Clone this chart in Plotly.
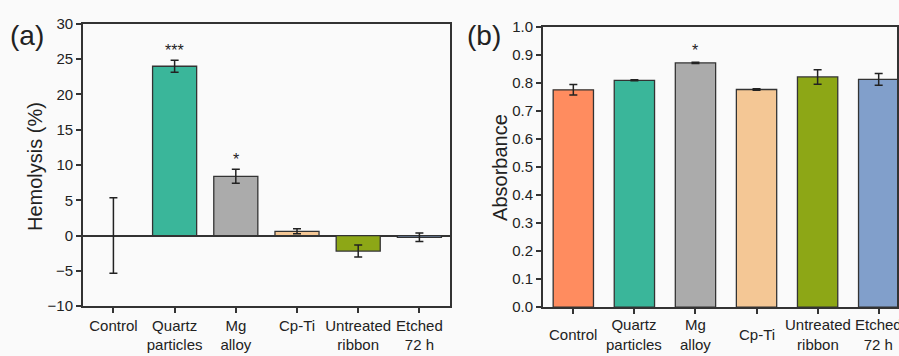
import plotly.graph_objects as go

categories = ["Control", "Quartz<br>particles", "Mg<br>alloy", "Cp-Ti", "Untreated<br>ribbon", "Etched<br>72 h"]
hemolysis = [0.0, 24.0, 8.4, 0.6, -2.2, -0.25]
hemolysis_err = [5.35, 0.85, 1.0, 0.35, 0.85, 0.6]
absorbance = [0.776, 0.810, 0.872, 0.777, 0.822, 0.813]
absorbance_err = [0.019, 0.002, 0.002, 0.003, 0.026, 0.021]
sig_a = ["", "***", "*", "", "", ""]
sig_b = ["", "", "*", "", "", ""]
colors = ["#FF8C5F", "#3AB69A", "#ABABAB", "#F4C795", "#8DA716", "#819FCB"]

FONT = "Arial, Liberation Sans, sans-serif"
TXT = "#222222"
LINE = "#333333"
BG = "#fafafa"

fig = go.Figure()

fig.add_trace(go.Bar(
    x=categories, y=hemolysis, width=0.72,
    marker=dict(color=colors, line=dict(color=LINE, width=1.3)),
    error_y=dict(type="data", array=hemolysis_err, color=TXT, thickness=1.5, width=4),
    xaxis="x", yaxis="y", showlegend=False,
))
fig.add_trace(go.Bar(
    x=categories, y=absorbance, width=0.66,
    marker=dict(color=colors, line=dict(color=LINE, width=1.3)),
    error_y=dict(type="data", array=absorbance_err, color=TXT, thickness=1.5, width=4),
    xaxis="x2", yaxis="y2", showlegend=False,
))

annotations = []
for c, v, e, s in zip(categories, hemolysis, hemolysis_err, sig_a):
    if s:
        annotations.append(dict(x=c, y=v + e, xref="x", yref="y", text=s, showarrow=False,
                                yanchor="bottom", yshift=-1, font=dict(size=16, color=TXT, family=FONT)))
for c, v, e, s in zip(categories, absorbance, absorbance_err, sig_b):
    if s:
        annotations.append(dict(x=c, y=v + e, xref="x2", yref="y2", text=s, showarrow=False,
                                yanchor="bottom", yshift=1, font=dict(size=16, color=TXT, family=FONT)))
# x tick labels of panel (b), vertically centred
for c in categories:
    annotations.append(dict(x=c, y=1 - 342 / 356, xref="x2", yref="paper", text=c, showarrow=False,
                            yanchor="middle", xanchor="center", align="center",
                            font=dict(size=15, color=TXT, family=FONT)))
# panel letters and y titles
annotations += [
    dict(x=27.5 / 899, y=1 - 28 / 356, xref="paper", yref="paper", text="(a)", showarrow=False,
         xanchor="center", yanchor="middle", font=dict(size=28, color=TXT, family=FONT)),
    dict(x=485 / 899, y=1 - 28 / 356, xref="paper", yref="paper", text="(b)", showarrow=False,
         xanchor="center", yanchor="middle", font=dict(size=28, color=TXT, family=FONT)),
    dict(x=35 / 899, y=1 - 165 / 356, xref="paper", yref="paper", text="Hemolysis (%)", showarrow=False,
         textangle=-90, xanchor="center", yanchor="middle", font=dict(size=20, color=TXT, family=FONT)),
    dict(x=501 / 899, y=1 - 166 / 356, xref="paper", yref="paper", text="Absorbance", showarrow=False,
         textangle=-90, xanchor="center", yanchor="middle", font=dict(size=20, color=TXT, family=FONT)),
]

axis_common = dict(showline=True, linecolor=LINE, linewidth=1.5, mirror=True, showgrid=False,
                   ticks="outside", ticklen=5, tickwidth=1.5, tickcolor=LINE,
                   tickfont=dict(size=15, color=TXT, family=FONT))

fig.update_layout(
    width=899, height=356,
    margin=dict(l=0, r=0, t=0, b=0),
    paper_bgcolor=BG, plot_bgcolor=BG,
    bargap=0.3,
    annotations=annotations,
    xaxis=dict(domain=[83 / 899, 451 / 899], range=[-0.5, 5.5], zeroline=False, **axis_common),
    yaxis=dict(domain=[1 - 312 / 356, 1 - 15.7 / 356], range=[-10, 30], dtick=5,
               zeroline=True, zerolinecolor=LINE, zerolinewidth=1.5, **axis_common),
    xaxis2=dict(domain=[544 / 899, 1.0], range=[-0.5, 5.3], anchor="y2", showticklabels=False,
                zeroline=False, **axis_common),
    yaxis2=dict(domain=[1 - 313 / 356, 1 - 19 / 356], range=[0, 1.0], dtick=0.1, tickformat=".1f",
                anchor="x2", zeroline=False, **axis_common),
)

fig.write_html("out.html")
